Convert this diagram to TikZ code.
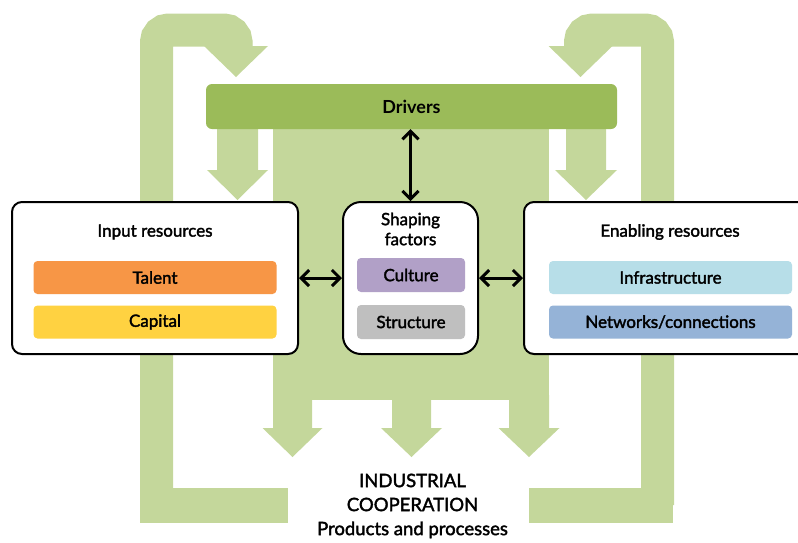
\documentclass[tikz,border=0pt]{standalone}
\usepackage{fontspec}
\setmainfont{Lato}
\newfontfamily\medfont[FakeBold=2]{Lato}
\usetikzlibrary{arrows.meta}

% Colours
\definecolor{bandgreen}{RGB}{196,215,155}
\definecolor{drivergreen}{RGB}{155,187,89}
\definecolor{talentorange}{RGB}{247,150,70}
\definecolor{capitalyellow}{RGB}{255,210,65}
\definecolor{culturepurple}{RGB}{177,160,199}
\definecolor{structuregray}{RGB}{191,191,191}
\definecolor{infrablue}{RGB}{183,222,232}
\definecolor{networkblue}{RGB}{149,179,215}

% Wide green arrow pointing down:
% centre x, shaft top, head base, tip, half shaft width, half head width
\newcommand{\blockarrow}[6]{%
  \fill[bandgreen] (#1-#5,#2) -- (#1+#5,#2) -- (#1+#5,#3) -- (#1+#6,#3)
    -- (#1,#4) -- (#1-#6,#3) -- (#1-#5,#3) -- cycle;}

\tikzset{
  band/.style={draw=bandgreen, line width=33pt},
  panel/.style={draw=black, line width=2pt, fill=white, rounded corners=10pt,
    minimum height=152pt, inner sep=0pt},
  bar/.style={rounded corners=4pt, minimum height=33pt, inner sep=0pt,
    font=\medfont\fontsize{17}{20}\selectfont},
  title/.style={font=\medfont\fontsize{17}{20}\selectfont, align=center},
  link/.style={line width=3pt,
    {Straight Barb[length=8pt,width=16pt]}-{Straight Barb[length=8pt,width=16pt]}},
}

\begin{document}
\begin{tikzpicture}[x=1pt, y=-1pt]

\useasboundingbox (0,0) rectangle (798,542);
\clip (0,0) rectangle (798,542);

% ===== Feedback loop, left =====
\fill[bandgreen] (140,488) rectangle (288,523);
\draw[band, rounded corners=12pt] (156.5,505) -- (156.5,30) -- (236,30) -- (236,47);
\blockarrow{236}{40}{46}{77}{16}{32}

% ===== Feedback loop, right =====
\fill[bandgreen] (529,488) rectangle (673,523);
\draw[band, rounded corners=12pt] (657.5,505) -- (657.5,30) -- (580.5,30) -- (580.5,47);
\blockarrow{580.5}{40}{46}{77}{16}{32}

% ===== Central flow =====
\fill[bandgreen] (273,120) rectangle (549,400);

% Arrows from the drivers into the resources
\blockarrow{237.5}{120}{170}{200}{20.5}{30.5}
\blockarrow{586}{120}{170}{200}{20}{31}

% Three arrows into the output
\blockarrow{292.5}{395}{428}{457}{19.5}{30}
\blockarrow{411.5}{395}{428}{457}{19.5}{30.5}
\blockarrow{529}{395}{428}{457}{20}{30.5}

% ===== Drivers =====
\node[fill=drivergreen, rounded corners=6pt, minimum width=411pt, minimum height=45pt,
  font=\bfseries\fontsize{18}{20}\selectfont] (drivers) at (411.5,106.5) {Drivers};

% ===== Input resources =====
\node[panel, minimum width=286pt] (input) at (155,278) {};
\node[title] (inputtitle) at (155,232) {Input resources};
\node[bar, fill=talentorange, minimum width=243pt] (talent) at (155,277.5) {Talent};
\node[bar, fill=capitalyellow, minimum width=243pt] (capital) at (155,322) {Capital};

% ===== Shaping factors =====
\node[panel, minimum width=135pt, rounded corners=18pt] (shaping) at (410.5,278) {};
\node[title] (shapingtitle) at (410.5,229) {Shaping\\factors};
\node[bar, fill=culturepurple, minimum width=108pt, minimum height=34pt] (culture) at (411,275) {Culture};
\node[bar, fill=structuregray, minimum width=108pt, minimum height=34pt] (structure) at (411,322) {Structure};

% ===== Enabling resources =====
\node[panel, minimum width=290pt] (enabling) at (669,278) {};
\node[title] (enablingtitle) at (670,232) {Enabling resources};
\node[bar, fill=infrablue, minimum width=243pt] (infra) at (670.5,277.5) {Infrastructure};
\node[bar, fill=networkblue, minimum width=243pt] (networks) at (670.5,322) {Networks/connections};

% ===== Output =====
\node[align=center, font=\medfont\fontsize{18.5}{24}\selectfont] (output) at (412.5,506)
  {INDUSTRIAL\\COOPERATION\\Products and processes};

% ===== Links =====
\draw[link] (input.east) -- (shaping.west);
\draw[link] (shaping.east) -- (enabling.west);
\draw[link] (drivers.south -| shaping.north) -- (shaping.north);

\end{tikzpicture}
\end{document}
